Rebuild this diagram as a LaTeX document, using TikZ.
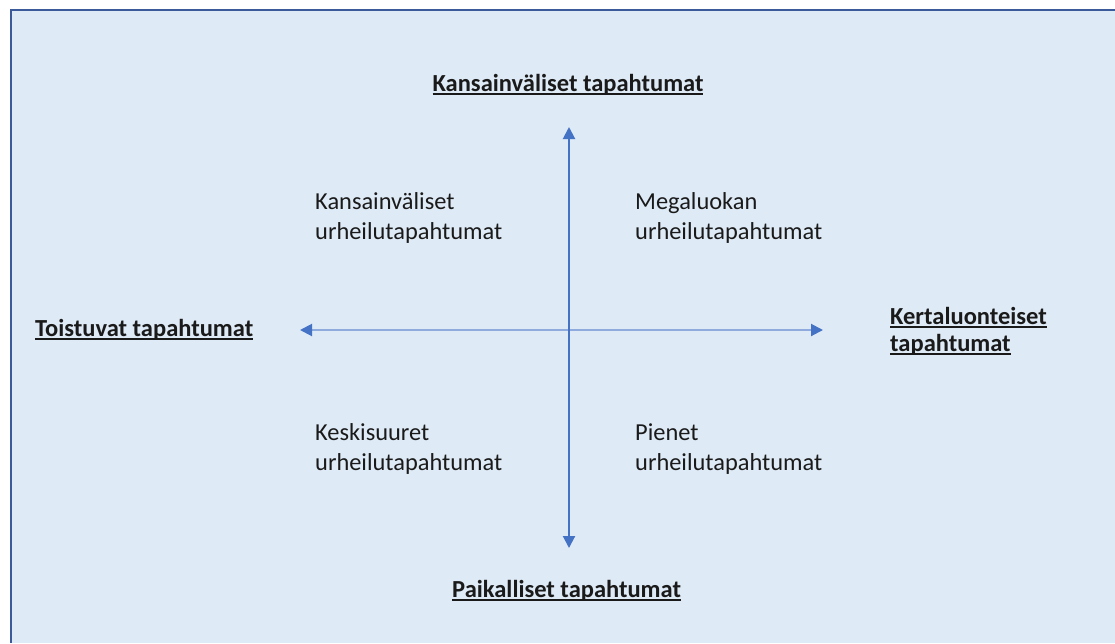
\documentclass[tikz,border=0pt]{standalone}
\usepackage{fontspec}
\setmainfont{Carlito}
\usetikzlibrary{arrows.meta}
\definecolor{panel}{HTML}{DEEAF6}
\definecolor{frame}{HTML}{3A5A9A}
\definecolor{axisdark}{HTML}{4472C4}
\definecolor{axislight}{HTML}{8FAADC}
\definecolor{ink}{HTML}{1A1A1A}
% bold axis label with a firm underline
\newsavebox{\labelbox}
\newcommand{\axislabel}[1]{\sbox{\labelbox}{#1}\rlap{\rule[-3.6pt]{\wd\labelbox}{1.8pt}}\usebox{\labelbox}}
\tikzset{
  quadtext/.style={anchor=base west, inner sep=0pt, align=left, text=ink,
    font=\fontsize{24.4}{29.5}\selectfont},
  polelabel/.style={inner sep=0pt, text=ink,
    font=\fontsize{24.5}{27}\selectfont\bfseries},
  twoway/.style={line width=2pt,
    {Triangle[width=12pt,length=12pt,color=axisdark]}-{Triangle[width=12pt,length=12pt,color=axisdark]}}
}
\begin{document}
\begin{tikzpicture}[x=1pt,y=-1pt]
  \useasboundingbox (0,0) rectangle (1115,643);
  % panel with a frame along the top and left edges
  \fill[panel] (11,10) rectangle (1115,643);
  \draw[frame, line width=2.6pt] (11,643) -- (11,10) -- (1115,10);

  % axis end points
  \coordinate (up) at (569,127);
  \coordinate (down) at (569,548);
  \coordinate (west) at (300,330);
  \coordinate (east) at (823,330);

  % axes
  \draw[twoway, axislight] (west) -- (east);
  \draw[twoway, axisdark] (down) -- (up);

  % axis pole labels
  \node[polelabel, anchor=base] (international) at (568,91) {\axislabel{Kansainväliset tapahtumat}};
  \node[polelabel, anchor=base west] (local) at (452,597) {\axislabel{Paikalliset tapahtumat}};
  \node[polelabel, anchor=base west] (recurring) at (35,336) {\axislabel{Toistuvat tapahtumat}};
  \node[polelabel, anchor=base west, align=left] (oneoff) at (890,351) {\axislabel{Kertaluonteiset}\\\axislabel{tapahtumat}};

  % quadrant labels (base anchor sits on the last line)
  \node[quadtext] (q1) at (315,239) {Kansainväliset\\urheilutapahtumat};
  \node[quadtext] (q2) at (635,239) {Megaluokan\\urheilutapahtumat};
  \node[quadtext] (q3) at (315,470) {Keskisuuret\\urheilutapahtumat};
  \node[quadtext] (q4) at (635,470) {Pienet\\urheilutapahtumat};
\end{tikzpicture}
\end{document}
